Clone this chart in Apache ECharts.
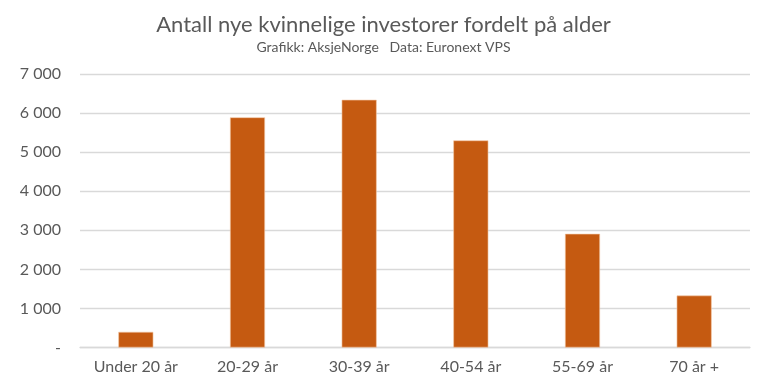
<!DOCTYPE html>
<html>
<head>
<meta charset="utf-8">
<script src="https://cdn.jsdelivr.net/npm/echarts@6/dist/echarts.min.js"></script>
<style>html,body{margin:0;padding:0;background:#fff;}#c{width:767px;height:389px;}</style>
</head>
<body>
<div id="c"></div>
<script>
const categories = ['Under 20 år', '20-29 år', '30-39 år', '40-54 år', '55-69 år', '70 år +'];
const values = [400, 5890, 6340, 5300, 2910, 1330];
const titleText = 'Antall nye kvinnelige investorer fordelt på alder';
const subtitleText = 'Grafikk: AksjeNorge   Data: Euronext VPS';

const chart = echarts.init(document.getElementById('c'), null, {renderer: 'canvas'});
chart.setOption({
  animation: false,
  backgroundColor: '#ffffff',
  title: {
    text: titleText,
    subtext: subtitleText,
    left: 'center',
    top: 9,
    itemGap: 4,
    textStyle: {fontFamily: 'Lato', fontSize: 22, fontWeight: 'normal', color: '#595959'},
    subtextStyle: {fontFamily: 'Lato', fontSize: 14, color: '#595959'}
  },
  grid: {left: 80, right: 17, top: 74, bottom: 41.5, containLabel: false},
  xAxis: {
    type: 'category',
    data: categories,
    axisLine: {show: true, lineStyle: {color: '#d9d9d9', width: 1.3}},
    axisTick: {show: false},
    axisLabel: {interval: 0, hideOverlap: false, fontFamily: 'Lato', fontSize: 16, color: '#595959', margin: 11}
  },
  yAxis: {
    type: 'value',
    min: 0,
    max: 7000,
    interval: 1000,
    axisLine: {show: false},
    axisTick: {show: false},
    splitLine: {lineStyle: {color: '#d9d9d9', width: 1.3}},
    axisLabel: {
      fontFamily: 'Lato', fontSize: 16, color: '#595959', margin: 19,
      formatter: function (v) {
        if (v === 0) return '-';
        return String(v).replace(/\B(?=(\d{3})+(?!\d))/g, ' ');
      }
    }
  },
  series: [{
    type: 'bar',
    data: values,
    barWidth: 35,
    itemStyle: {color: '#C55A11', borderColor: '#f4c9a8', borderWidth: 0.6}
  }]
});
</script>
</body>
</html>
